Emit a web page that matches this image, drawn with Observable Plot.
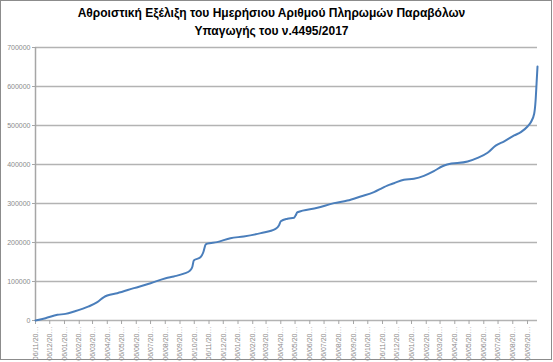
<!DOCTYPE html>
<html>
<head>
<meta charset="utf-8">
<script src="https://cdn.jsdelivr.net/npm/d3@7"></script>
<script src="https://cdn.jsdelivr.net/npm/@observablehq/plot@0.6"></script>
<style>
  html, body { margin: 0; padding: 0; background: #fff; }
  #wrap { position: relative; width: 553px; height: 362px; overflow: hidden; }
  #border { position: absolute; left: 0; top: 0; width: 550px; height: 358px; border: 1px solid #8c8c8c; pointer-events: none; }
  #title { position: absolute; left: -5px; top: 4px; width: 553px; text-align: center; font-family: "Liberation Sans", Arial, sans-serif; font-size: 12px; font-weight: bold; line-height: 18px; color: #000; }
  #chart { position: absolute; left: 0; top: 0; }
</style>
</head>
<body>
<div id="wrap">
  <div id="chart"></div>
  <div id="title">Αθροιστική Εξέλιξη του Ημερήσιου Αριθμού Πληρωμών Παραβόλων<br>Υπαγωγής του ν.4495/2017</div>
  <div id="border"></div>
</div>
<script>
const dates = ["2017-11-06","2017-11-27","2017-12-22","2018-01-08","2018-01-26","2018-02-26","2018-03-16","2018-03-30","2018-04-06","2018-04-27","2018-06-01","2018-07-06","2018-08-07","2018-08-24","2018-09-14","2018-09-27","2018-10-02","2018-10-05","2018-10-19","2018-10-25","2018-10-30","2018-11-02","2018-11-23","2018-12-21","2019-01-18","2019-02-23","2019-03-26","2019-04-02","2019-04-06","2019-04-20","2019-05-04","2019-05-07","2019-05-11","2019-06-22","2019-07-27","2019-08-24","2019-09-21","2019-10-19","2019-11-06","2019-11-16","2019-11-30","2019-12-21","2020-01-11","2020-02-01","2020-02-22","2020-03-11","2020-03-21","2020-05-03","2020-05-24","2020-06-14","2020-07-01","2020-07-19","2020-08-09","2020-08-23","2020-09-06","2020-09-13","2020-09-20","2020-09-23","2020-09-25","2020-09-27"];
const payments = [0,6000,14500,17000,23000,36000,47000,60000,64000,70000,83000,95500,108500,113000,120000,128000,138000,154000,162000,175000,195000,197000,201000,211000,215500,224000,235000,243500,254500,261000,263500,269000,277500,289000,301000,307500,318000,329000,340000,346000,352000,361000,363500,371000,383000,395500,400000,407500,417000,430000,448500,459500,474500,483000,497500,508500,530000,564000,607000,651000];
const xTicks = ["2017-11-06","2017-12-06","2018-01-06","2018-02-06","2018-03-06","2018-04-06","2018-05-06","2018-06-06","2018-07-06","2018-08-06","2018-09-06","2018-10-06","2018-11-06","2018-12-06","2019-01-06","2019-02-06","2019-03-06","2019-04-06","2019-05-06","2019-06-06","2019-07-06","2019-08-06","2019-09-06","2019-10-06","2019-11-06","2019-12-06","2020-01-06","2020-02-06","2020-03-06","2020-04-06","2020-05-06","2020-06-06","2020-07-06","2020-08-06","2020-09-06"];
const yTicks = [0,100000,200000,300000,400000,500000,600000,700000];

const data = dates.map((d, i) => ({date: new Date(d), value: payments[i]}));
const fmt = d3.utcFormat("%d/%m/%Y");

const chart = Plot.plot({
  width: 553,
  height: 362,
  marginTop: 47,
  marginBottom: 42,
  marginLeft: 35,
  marginRight: 16,
  style: {fontFamily: "Liberation Sans, Arial, sans-serif", fontSize: "7px", background: "transparent"},
  x: {type: "utc", domain: [new Date("2017-11-06"), new Date("2020-09-27")]},
  y: {domain: [0, 700000]},
  marks: [
    Plot.gridY(yTicks, {stroke: "#b3b3b3", strokeOpacity: 1, strokeWidth: 1.5}),
    Plot.ruleX([new Date("2017-11-06")], {stroke: "#a6a6a6", strokeWidth: 1.5}),
    Plot.axisY(yTicks, {tickSize: 3, tickPadding: 2, stroke: "#a6a6a6", fill: "#8a8a8a", tickFormat: d => String(d), label: null}),
    Plot.axisX(xTicks.map(d => new Date(d)), {tickSize: 4, tickPadding: 2, tickRotate: -90, stroke: "#a6a6a6", fill: "#8a8a8a", tickFormat: d => fmt(d).slice(0, 8) + "…", label: null}),
    Plot.line(data, {x: "date", y: "value", stroke: "#4a7ebb", strokeWidth: 2, curve: "monotone-x"})
  ]
});
document.getElementById("chart").appendChild(chart);
</script>
</body>
</html>
